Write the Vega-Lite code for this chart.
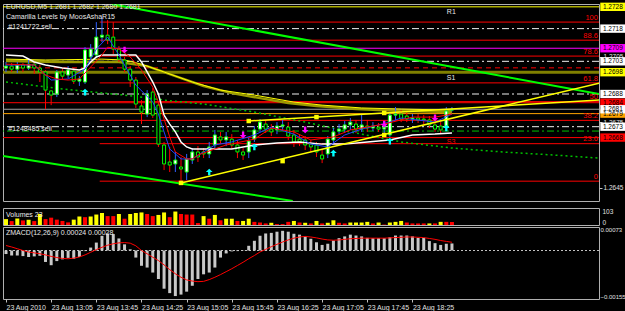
{
"$schema":"https://vega.github.io/schema/vega-lite/v6.json",
"background":"#000000",
"padding":{"left":0,"top":2,"right":0,"bottom":0},
"bounds":"flush",
"config":{
 "view":{"stroke":"#b0b0b0","strokeWidth":1},
 "axis":{"grid":false,"title":null,"domain":false,"labelColor":"#e0e0e0","labelFont":"Liberation Sans","labelFontSize":7.5,"tickColor":"#c0c0c0","tickSize":3,"labelPadding":2,"labelOverlap":false,"labelFlush":false},
 "text":{"font":"Liberation Sans","fontSize":7}
},
"datasets":{
 "bars":[
{"t":"2010-08-23T12:25","o":1.26999,"h":1.27027,"l":1.26981,"c":1.27008,"v":45,"vc":"y","m":-0.00012,"s":0.00017},
{"t":"2010-08-23T12:30","o":1.27008,"h":1.27022,"l":1.26981,"c":1.26994,"v":30,"vc":"r","m":-0.00017,"s":0.00012},
{"t":"2010-08-23T12:35","o":1.26994,"h":1.27027,"l":1.26976,"c":1.27013,"v":50,"vc":"y","m":-0.00017,"s":0.00006},
{"t":"2010-08-23T12:40","o":1.27013,"h":1.27022,"l":1.26981,"c":1.26999,"v":35,"vc":"r","m":-0.00019,"s":0.0},
{"t":"2010-08-23T12:45","o":1.26999,"h":1.27036,"l":1.2699,"c":1.27017,"v":40,"vc":"y","m":-0.00022,"s":-0.00005},
{"t":"2010-08-23T12:50","o":1.27017,"h":1.27031,"l":1.26972,"c":1.26999,"v":30,"vc":"r","m":-0.0002,"s":-0.00008},
{"t":"2010-08-23T12:55","o":1.26999,"h":1.27013,"l":1.26935,"c":1.26981,"v":84,"vc":"y","m":-0.00018,"s":-0.00011},
{"t":"2010-08-23T13:00","o":1.26981,"h":1.2699,"l":1.26811,"c":1.26898,"v":45,"vc":"r","m":-0.00039,"s":-0.00015},
{"t":"2010-08-23T13:05","o":1.26894,"h":1.26898,"l":1.26829,"c":1.26875,"v":56,"vc":"r","m":-0.0005,"s":-0.0002},
{"t":"2010-08-23T13:10","o":1.2688,"h":1.2699,"l":1.26866,"c":1.26981,"v":41,"vc":"r","m":-0.00036,"s":-0.00024},
{"t":"2010-08-23T13:15","o":1.26981,"h":1.26999,"l":1.26944,"c":1.26962,"v":31,"vc":"r","m":-0.0003,"s":-0.00027},
{"t":"2010-08-23T13:20","o":1.26967,"h":1.27008,"l":1.26953,"c":1.2699,"v":20,"vc":"r","m":-0.00025,"s":-0.00028},
{"t":"2010-08-23T13:25","o":1.26985,"h":1.26999,"l":1.26926,"c":1.26939,"v":41,"vc":"y","m":-0.00028,"s":-0.00026},
{"t":"2010-08-23T13:30","o":1.26939,"h":1.26962,"l":1.26917,"c":1.26949,"v":65,"vc":"y","m":-0.00022,"s":-0.00022},
{"t":"2010-08-23T13:35","o":1.26935,"h":1.27095,"l":1.26926,"c":1.27082,"v":60,"vc":"r","m":-0.00002,"s":-0.00015},
{"t":"2010-08-23T13:40","o":1.2705,"h":1.27109,"l":1.27036,"c":1.27086,"v":65,"vc":"y","m":0.0001,"s":-0.00006},
{"t":"2010-08-23T13:45","o":1.27059,"h":1.2721,"l":1.27045,"c":1.27141,"v":80,"vc":"y","m":0.00027,"s":0.00003},
{"t":"2010-08-23T13:50","o":1.27141,"h":1.27233,"l":1.27118,"c":1.2715,"v":92,"vc":"y","m":0.0005,"s":0.00011},
{"t":"2010-08-23T13:55","o":1.2715,"h":1.27219,"l":1.27109,"c":1.27128,"v":68,"vc":"r","m":0.00058,"s":0.00018},
{"t":"2010-08-23T14:00","o":1.27141,"h":1.2721,"l":1.27063,"c":1.27086,"v":68,"vc":"r","m":0.00056,"s":0.00023},
{"t":"2010-08-23T14:05","o":1.27086,"h":1.271,"l":1.27027,"c":1.2704,"v":84,"vc":"y","m":0.00041,"s":0.00026},
{"t":"2010-08-23T14:10","o":1.27036,"h":1.2705,"l":1.26981,"c":1.26994,"v":48,"vc":"r","m":0.00021,"s":0.00027},
{"t":"2010-08-23T14:15","o":1.26994,"h":1.27008,"l":1.26912,"c":1.26944,"v":84,"vc":"y","m":0.00004,"s":0.00025},
{"t":"2010-08-23T14:20","o":1.26944,"h":1.26958,"l":1.26816,"c":1.26834,"v":92,"vc":"y","m":-0.00024,"s":0.00016},
{"t":"2010-08-23T14:25","o":1.26825,"h":1.26852,"l":1.26742,"c":1.26797,"v":96,"vc":"y","m":-0.00052,"s":0.0},
{"t":"2010-08-23T14:30","o":1.26788,"h":1.26898,"l":1.26774,"c":1.2688,"v":84,"vc":"r","m":-0.00058,"s":-0.00011},
{"t":"2010-08-23T14:35","o":1.26889,"h":1.26907,"l":1.2677,"c":1.26783,"v":68,"vc":"r","m":-0.00075,"s":-0.00023},
{"t":"2010-08-23T14:40","o":1.26829,"h":1.26843,"l":1.26637,"c":1.2665,"v":77,"vc":"y","m":-0.00097,"s":-0.00034},
{"t":"2010-08-23T14:45","o":1.26646,"h":1.2666,"l":1.26531,"c":1.26559,"v":96,"vc":"y","m":-0.0013,"s":-0.00049},
{"t":"2010-08-23T14:50","o":1.26568,"h":1.26637,"l":1.26522,"c":1.26554,"v":60,"vc":"r","m":-0.00145,"s":-0.00065},
{"t":"2010-08-23T14:55","o":1.26559,"h":1.26614,"l":1.26522,"c":1.26577,"v":103,"vc":"y","m":-0.00155,"s":-0.00079},
{"t":"2010-08-23T15:00","o":1.26545,"h":1.26591,"l":1.26472,"c":1.26536,"v":84,"vc":"r","m":-0.0015,"s":-0.00091},
{"t":"2010-08-23T15:05","o":1.26522,"h":1.26605,"l":1.26485,"c":1.26582,"v":80,"vc":"r","m":-0.0014,"s":-0.001},
{"t":"2010-08-23T15:10","o":1.26577,"h":1.26632,"l":1.26559,"c":1.26614,"v":80,"vc":"r","m":-0.0012,"s":-0.00104},
{"t":"2010-08-23T15:15","o":1.26614,"h":1.26641,"l":1.26568,"c":1.26591,"v":15,"vc":"r","m":-0.00097,"s":-0.00106},
{"t":"2010-08-23T15:20","o":1.26614,"h":1.26632,"l":1.26586,"c":1.26605,"v":68,"vc":"y","m":-0.00081,"s":-0.00105},
{"t":"2010-08-23T15:25","o":1.26605,"h":1.2666,"l":1.26586,"c":1.26637,"v":48,"vc":"r","m":-0.00075,"s":-0.00099},
{"t":"2010-08-23T15:30","o":1.26646,"h":1.26715,"l":1.26632,"c":1.26692,"v":77,"vc":"y","m":-0.00058,"s":-0.00091},
{"t":"2010-08-23T15:35","o":1.26683,"h":1.26706,"l":1.2665,"c":1.26669,"v":36,"vc":"r","m":-0.00024,"s":-0.00082},
{"t":"2010-08-23T15:40","o":1.26669,"h":1.26706,"l":1.26641,"c":1.26683,"v":48,"vc":"y","m":-0.0001,"s":-0.00072},
{"t":"2010-08-23T15:45","o":1.26673,"h":1.26696,"l":1.26628,"c":1.26646,"v":48,"vc":"y","m":-0.00003,"s":-0.00062},
{"t":"2010-08-23T15:50","o":1.26646,"h":1.26669,"l":1.26586,"c":1.26614,"v":31,"vc":"r","m":-0.00002,"s":-0.00051},
{"t":"2010-08-23T15:55","o":1.26614,"h":1.26632,"l":1.26577,"c":1.266,"v":31,"vc":"y","m":0.00001,"s":-0.0004},
{"t":"2010-08-23T16:00","o":1.26614,"h":1.26678,"l":1.26586,"c":1.26664,"v":48,"vc":"y","m":0.00016,"s":-0.00028},
{"t":"2010-08-23T16:05","o":1.26673,"h":1.26733,"l":1.2666,"c":1.26715,"v":24,"vc":"r","m":0.00033,"s":-0.00017},
{"t":"2010-08-23T16:10","o":1.26719,"h":1.26765,"l":1.26706,"c":1.26751,"v":19,"vc":"r","m":0.0005,"s":-0.00005},
{"t":"2010-08-23T16:15","o":1.26742,"h":1.26761,"l":1.26701,"c":1.26719,"v":12,"vc":"r","m":0.00058,"s":0.00004},
{"t":"2010-08-23T16:20","o":1.26719,"h":1.26742,"l":1.26687,"c":1.26706,"v":17,"vc":"y","m":0.0006,"s":0.00013},
{"t":"2010-08-23T16:25","o":1.26715,"h":1.26751,"l":1.26696,"c":1.26733,"v":7,"vc":"r","m":0.00064,"s":0.00021},
{"t":"2010-08-23T16:30","o":1.26733,"h":1.26761,"l":1.26715,"c":1.26738,"v":7,"vc":"r","m":0.00067,"s":0.00029},
{"t":"2010-08-23T16:35","o":1.26728,"h":1.26751,"l":1.26669,"c":1.26687,"v":24,"vc":"r","m":0.00064,"s":0.00036},
{"t":"2010-08-23T16:40","o":1.26692,"h":1.26715,"l":1.26637,"c":1.2666,"v":31,"vc":"y","m":0.00057,"s":0.00042},
{"t":"2010-08-23T16:45","o":1.26673,"h":1.26696,"l":1.26641,"c":1.2666,"v":19,"vc":"r","m":0.00054,"s":0.00046},
{"t":"2010-08-23T16:50","o":1.26669,"h":1.26687,"l":1.26623,"c":1.26646,"v":17,"vc":"y","m":0.00048,"s":0.00048},
{"t":"2010-08-23T16:55","o":1.2665,"h":1.26669,"l":1.26614,"c":1.26637,"v":12,"vc":"r","m":0.0004,"s":0.00046},
{"t":"2010-08-23T17:00","o":1.26646,"h":1.2666,"l":1.26591,"c":1.26614,"v":31,"vc":"y","m":0.00028,"s":0.00043},
{"t":"2010-08-23T17:05","o":1.266,"h":1.26623,"l":1.26563,"c":1.26582,"v":12,"vc":"r","m":0.00019,"s":0.00039},
{"t":"2010-08-23T17:10","o":1.26605,"h":1.26687,"l":1.26586,"c":1.26673,"v":17,"vc":"y","m":0.00023,"s":0.00036},
{"t":"2010-08-23T17:15","o":1.26669,"h":1.26724,"l":1.2665,"c":1.26706,"v":36,"vc":"y","m":0.00034,"s":0.00035},
{"t":"2010-08-23T17:20","o":1.2671,"h":1.26742,"l":1.26696,"c":1.26719,"v":17,"vc":"r","m":0.00042,"s":0.00036},
{"t":"2010-08-23T17:25","o":1.26719,"h":1.26756,"l":1.26701,"c":1.26738,"v":12,"vc":"r","m":0.00048,"s":0.00038},
{"t":"2010-08-23T17:30","o":1.26738,"h":1.2677,"l":1.26715,"c":1.26751,"v":19,"vc":"y","m":0.00054,"s":0.0004},
{"t":"2010-08-23T17:35","o":1.26742,"h":1.26761,"l":1.26701,"c":1.26719,"v":19,"vc":"y","m":0.00051,"s":0.00041},
{"t":"2010-08-23T17:40","o":1.26719,"h":1.26788,"l":1.26706,"c":1.26738,"v":19,"vc":"y","m":0.00048,"s":0.00042},
{"t":"2010-08-23T17:45","o":1.26733,"h":1.26761,"l":1.26706,"c":1.26724,"v":24,"vc":"y","m":0.00043,"s":0.00042},
{"t":"2010-08-23T17:50","o":1.26724,"h":1.26751,"l":1.2671,"c":1.26733,"v":12,"vc":"r","m":0.00042,"s":0.00042},
{"t":"2010-08-23T17:55","o":1.26728,"h":1.26747,"l":1.26706,"c":1.26719,"v":19,"vc":"y","m":0.00042,"s":0.00042},
{"t":"2010-08-23T18:00","o":1.26719,"h":1.26751,"l":1.26696,"c":1.26728,"v":3,"vc":"r","m":0.00042,"s":0.00042},
{"t":"2010-08-23T18:05","o":1.26692,"h":1.26797,"l":1.26683,"c":1.26783,"v":19,"vc":"y","m":0.00045,"s":0.00043},
{"t":"2010-08-23T18:10","o":1.26783,"h":1.2682,"l":1.26761,"c":1.26788,"v":24,"vc":"y","m":0.00051,"s":0.00044},
{"t":"2010-08-23T18:15","o":1.26788,"h":1.26806,"l":1.26751,"c":1.26765,"v":31,"vc":"y","m":0.00051,"s":0.00045},
{"t":"2010-08-23T18:20","o":1.26779,"h":1.26797,"l":1.26751,"c":1.26765,"v":19,"vc":"r","m":0.00051,"s":0.00046},
{"t":"2010-08-23T18:25","o":1.26765,"h":1.26788,"l":1.26747,"c":1.2677,"v":12,"vc":"r","m":0.00048,"s":0.00046},
{"t":"2010-08-23T18:30","o":1.2677,"h":1.26788,"l":1.26747,"c":1.26761,"v":12,"vc":"r","m":0.00043,"s":0.00045},
{"t":"2010-08-23T18:35","o":1.26765,"h":1.26783,"l":1.26742,"c":1.26761,"v":12,"vc":"r","m":0.00043,"s":0.00044},
{"t":"2010-08-23T18:40","o":1.26761,"h":1.26779,"l":1.26724,"c":1.26738,"v":12,"vc":"y","m":0.00032,"s":0.00041},
{"t":"2010-08-23T18:45","o":1.26738,"h":1.26751,"l":1.26706,"c":1.26719,"v":12,"vc":"r","m":0.00025,"s":0.00038},
{"t":"2010-08-23T18:50","o":1.26733,"h":1.26751,"l":1.26696,"c":1.26715,"v":24,"vc":"y","m":0.00019,"s":0.00034},
{"t":"2010-08-23T18:55","o":1.26728,"h":1.2682,"l":1.26719,"c":1.26802,"v":24,"vc":"r","m":0.00023,"s":0.00031},
{"t":"2010-08-23T19:00","o":1.26806,"h":1.2682,"l":1.268,"c":1.2681,"v":23,"vc":"r","m":0.00024,"s":0.00028}
 ],
 "redma":[
{"t":"2010-08-23T12:25","p":1.27017},{"t":"2010-08-23T12:50","p":1.27013},{"t":"2010-08-23T13:00","p":1.26967},{"t":"2010-08-23T13:10","p":1.26949},{"t":"2010-08-23T13:20","p":1.26944},{"t":"2010-08-23T13:30","p":1.26949},{"t":"2010-08-23T13:40","p":1.27004},{"t":"2010-08-23T13:50","p":1.27059},{"t":"2010-08-23T13:55","p":1.27095},{"t":"2010-08-23T14:05","p":1.27086},{"t":"2010-08-23T14:15","p":1.2705},{"t":"2010-08-23T14:25","p":1.2699},{"t":"2010-08-23T14:35","p":1.26912},{"t":"2010-08-23T14:40","p":1.26843},{"t":"2010-08-23T14:45","p":1.26765},{"t":"2010-08-23T14:50","p":1.26683},{"t":"2010-08-23T14:55","p":1.26614},{"t":"2010-08-23T15:05","p":1.26582},{"t":"2010-08-23T15:10","p":1.26582},{"t":"2010-08-23T15:15","p":1.266},{"t":"2010-08-23T15:30","p":1.26628},{"t":"2010-08-23T15:40","p":1.26646},{"t":"2010-08-23T16:05","p":1.26673},{"t":"2010-08-23T16:20","p":1.26724},{"t":"2010-08-23T16:40","p":1.26706},{"t":"2010-08-23T16:55","p":1.26669},{"t":"2010-08-23T17:15","p":1.26683},{"t":"2010-08-23T17:30","p":1.26715},{"t":"2010-08-23T18:00","p":1.26742},{"t":"2010-08-23T18:25","p":1.26774},{"t":"2010-08-23T18:45","p":1.26774},{"t":"2010-08-23T19:00","p":1.26788}
 ],
 "bluema":[
{"t":"2010-08-23T12:25","p":1.27013},{"t":"2010-08-23T12:50","p":1.27013},{"t":"2010-08-23T13:05","p":1.26944},{"t":"2010-08-23T13:20","p":1.26949},{"t":"2010-08-23T13:35","p":1.26994},{"t":"2010-08-23T13:45","p":1.27086},{"t":"2010-08-23T13:55","p":1.27141},{"t":"2010-08-23T14:05","p":1.27059},{"t":"2010-08-23T14:20","p":1.26921},{"t":"2010-08-23T14:35","p":1.26843},{"t":"2010-08-23T14:40","p":1.26788},{"t":"2010-08-23T14:45","p":1.26706},{"t":"2010-08-23T14:50","p":1.26628},{"t":"2010-08-23T15:00","p":1.26582},{"t":"2010-08-23T15:10","p":1.26582},{"t":"2010-08-23T15:20","p":1.26614},{"t":"2010-08-23T15:30","p":1.26646},{"t":"2010-08-23T15:45","p":1.2666},{"t":"2010-08-23T16:05","p":1.26692},{"t":"2010-08-23T16:20","p":1.26728},{"t":"2010-08-23T16:40","p":1.26696},{"t":"2010-08-23T16:55","p":1.2665},{"t":"2010-08-23T17:10","p":1.26637},{"t":"2010-08-23T17:25","p":1.26692},{"t":"2010-08-23T17:40","p":1.26719},{"t":"2010-08-23T18:05","p":1.26751},{"t":"2010-08-23T18:15","p":1.2677},{"t":"2010-08-23T18:45","p":1.26751},{"t":"2010-08-23T19:00","p":1.26788}
 ],
 "whitema":[
{"t":"2010-08-23T12:25","p":1.27059},{"t":"2010-08-23T12:40","p":1.27054},{"t":"2010-08-23T12:50","p":1.27027},{"t":"2010-08-23T13:00","p":1.27013},{"t":"2010-08-23T13:15","p":1.26999},{"t":"2010-08-23T13:30","p":1.2699},{"t":"2010-08-23T13:35","p":1.26999},{"t":"2010-08-23T13:40","p":1.27027},{"t":"2010-08-23T13:45","p":1.2705},{"t":"2010-08-23T13:50","p":1.27059},{"t":"2010-08-23T14:20","p":1.27059},{"t":"2010-08-23T14:25","p":1.27027},{"t":"2010-08-23T14:30","p":1.26981},{"t":"2010-08-23T14:35","p":1.26935},{"t":"2010-08-23T14:40","p":1.2688},{"t":"2010-08-23T14:45","p":1.26783},{"t":"2010-08-23T14:50","p":1.26742},{"t":"2010-08-23T14:55","p":1.26706},{"t":"2010-08-23T15:00","p":1.2666},{"t":"2010-08-23T15:05","p":1.26637},{"t":"2010-08-23T15:10","p":1.26628},{"t":"2010-08-23T15:45","p":1.26628},{"t":"2010-08-23T16:05","p":1.26646},{"t":"2010-08-23T16:25","p":1.26655},{"t":"2010-08-23T16:45","p":1.2666},{"t":"2010-08-23T17:05","p":1.2665},{"t":"2010-08-23T17:25","p":1.2665},{"t":"2010-08-23T17:45","p":1.2666},{"t":"2010-08-23T18:05","p":1.26669},{"t":"2010-08-23T18:25","p":1.26692},{"t":"2010-08-23T18:45","p":1.26696},{"t":"2010-08-23T19:00","p":1.26701}
 ],
 "yelma":[
{"t":"2010-08-23T12:25","p":1.2704},{"t":"2010-08-23T13:00","p":1.27036},{"t":"2010-08-23T13:50","p":1.2704},{"t":"2010-08-23T14:10","p":1.27036},{"t":"2010-08-23T14:25","p":1.27017},{"t":"2010-08-23T14:45","p":1.26981},{"t":"2010-08-23T15:10","p":1.26935},{"t":"2010-08-23T15:35","p":1.26898},{"t":"2010-08-23T16:05","p":1.26875},{"t":"2010-08-23T16:40","p":1.26843},{"t":"2010-08-23T17:05","p":1.26829},{"t":"2010-08-23T17:40","p":1.26816},{"t":"2010-08-23T18:15","p":1.26811},{"t":"2010-08-23T19:00","p":1.26806}
 ],
 "olvma":[
{"t":"2010-08-23T12:25","p":1.27031},{"t":"2010-08-23T13:15","p":1.27027},{"t":"2010-08-23T14:05","p":1.27027},{"t":"2010-08-23T14:30","p":1.27008},{"t":"2010-08-23T14:55","p":1.26962},{"t":"2010-08-23T15:20","p":1.26917},{"t":"2010-08-23T15:45","p":1.26884},{"t":"2010-08-23T16:10","p":1.26861},{"t":"2010-08-23T16:35","p":1.26839},{"t":"2010-08-23T17:00","p":1.26825},{"t":"2010-08-23T17:35","p":1.26811},{"t":"2010-08-23T18:15","p":1.26802},{"t":"2010-08-23T19:00","p":1.26797}
 ],
 "grnma":[
{"t":"2010-08-23T12:25","p":1.26935},{"t":"2010-08-23T13:15","p":1.26903},{"t":"2010-08-23T14:10","p":1.26875},{"t":"2010-08-23T14:45","p":1.26852},{"t":"2010-08-23T15:20","p":1.26834},{"t":"2010-08-23T16:05","p":1.26797},{"t":"2010-08-23T16:50","p":1.26751},{"t":"2010-08-23T17:30","p":1.26706},{"t":"2010-08-23T18:15","p":1.2666},{"t":"2010-08-23T19:00","p":1.26632},{"t":"2010-08-23T19:45","p":1.26614},{"t":"2010-08-23T20:30","p":1.266},{"t":"2010-08-23T21:10","p":1.26586}
 ]
},
"spacing":7,
"resolve":{"scale":{"x":"independent","y":"independent","color":"independent","fill":"independent"}},
"vconcat":[
{
 "width":596,"height":197,
 "layer":[
  {"data":{"values":[{"p":1.2728}]},"mark":{"type":"rule","color":"#ffff00","strokeWidth":1},
   "encoding":{"y":{"field":"p","type":"quantitative","scale":{"domain":[1.26389,1.27293],"zero":false,"nice":false},"axis":{"orient":"right","values":[1.2645,1.266,1.2675,1.269,1.2705,1.272],"format":".4f","labelFontSize":6.5,"labelPadding":1}}}},
  {"data":{"values":[{"p":1.2718},{"p":1.2703},{"p":1.2688},{"p":1.2673}]},"mark":{"type":"rule","color":"#f0f0f0","strokeWidth":1,"strokeDash":[7,3,2,3]},"encoding":{"y":{"field":"p","type":"quantitative"}}},
  {"data":{"values":[{"p":1.2709}]},"mark":{"type":"rule","color":"#ff00ff","strokeWidth":1},"encoding":{"y":{"field":"p","type":"quantitative"}}},
  {"data":{"values":[{"p":1.27}]},"mark":{"type":"rule","color":"#ff0000","strokeWidth":1,"strokeDash":[5,4]},"encoding":{"y":{"field":"p","type":"quantitative"}}},
  {"data":{"values":[{"p":1.2698}]},"mark":{"type":"rule","color":"#808000","strokeWidth":3},"encoding":{"y":{"field":"p","type":"quantitative"}}},
  {"data":{"values":[{"p":1.2684},{"p":1.2668}]},"mark":{"type":"rule","color":"#ff0000","strokeWidth":1},"encoding":{"y":{"field":"p","type":"quantitative"}}},
  {"data":{"values":[{"p":1.2681}]},"mark":{"type":"rule","color":"#a0a0a0","strokeWidth":1},"encoding":{"y":{"field":"p","type":"quantitative"}}},
  {"data":{"values":[{"p":1.2679}]},"mark":{"type":"rule","color":"#ffa500","strokeWidth":1},"encoding":{"y":{"field":"p","type":"quantitative"}}},
  {"data":{"values":[{"p":1.2671}]},"mark":{"type":"rule","color":"#00c000","strokeWidth":1,"strokeDash":[7,3,2,3]},"encoding":{"y":{"field":"p","type":"quantitative"}}},
  {"data":{"values":[{"t":"2010-08-23T13:48","p":1.2721},{"t":"2010-08-23T13:48","p":1.27127},{"t":"2010-08-23T13:48","p":1.27054},{"t":"2010-08-23T13:48","p":1.26931},{"t":"2010-08-23T13:48","p":1.26845},{"t":"2010-08-23T13:48","p":1.26759},{"t":"2010-08-23T13:48","p":1.26652},{"t":"2010-08-23T13:48","p":1.2648}]},
   "mark":{"type":"rule","color":"#ff0000","strokeWidth":1},
   "encoding":{"x":{"field":"t","type":"temporal","axis":null},"x2":{"datum":{"year":2010,"month":8,"date":23,"hours":21,"minutes":10,"seconds":15}},"y":{"field":"p","type":"quantitative"}}},
  {"data":{"values":[{"t":"2010-08-23T13:58","p":1.27293,"g":"u"},{"t":"2010-08-23T21:10:15","p":1.2688,"g":"u"},{"t":"2010-08-23T12:22:20","p":1.26595,"g":"l"},{"t":"2010-08-23T16:39","p":1.26389,"g":"l"}]},
   "mark":{"type":"line","color":"#00ff00","strokeWidth":2,"clip":true},
   "encoding":{"x":{"field":"t","type":"temporal","axis":null},"y":{"field":"p","type":"quantitative"},"detail":{"field":"g"}}},
  {"data":{"name":"grnma"},"mark":{"type":"line","color":"#00c000","strokeWidth":1.5,"strokeDash":[2,3],"clip":true},"encoding":{"x":{"field":"t","type":"temporal","axis":null},"y":{"field":"p","type":"quantitative"}}},
  {"data":{"name":"olvma"},"mark":{"type":"line","color":"#9a9a00","strokeWidth":2.5},"encoding":{"x":{"field":"t","type":"temporal","axis":null},"y":{"field":"p","type":"quantitative"}}},
  {"data":{"name":"yelma"},"mark":{"type":"line","color":"#ffff00","strokeWidth":1},"encoding":{"x":{"field":"t","type":"temporal","axis":null},"y":{"field":"p","type":"quantitative"}}},
  {"data":{"name":"bars"},"mark":{"type":"rule","strokeWidth":1},
   "encoding":{"x":{"field":"t","type":"temporal","axis":null,"scale":{"padding":0,"domain":[{"year":2010,"month":8,"date":23,"hours":12,"minutes":22,"seconds":20},{"year":2010,"month":8,"date":23,"hours":21,"minutes":10,"seconds":15}]}},
    "y":{"field":"l","type":"quantitative"},"y2":{"field":"h"},
    "color":{"condition":{"test":"datum.c >= datum.o","value":"#3060ff"},"value":"#ff0000"}}},
  {"data":{"name":"bars"},"mark":{"type":"bar","width":3,"stroke":"#00ff00","strokeWidth":1},
   "encoding":{"x":{"field":"t","type":"temporal","axis":null},"y":{"field":"o","type":"quantitative"},"y2":{"field":"c"},
    "fill":{"condition":{"test":"datum.c >= datum.o","value":"#ffffff"},"value":"#000000"}}},
  {"data":{"name":"whitema"},"mark":{"type":"line","color":"#ffffff","strokeWidth":1.5},"encoding":{"x":{"field":"t","type":"temporal","axis":null},"y":{"field":"p","type":"quantitative"}}},
  {"data":{"name":"bluema"},"mark":{"type":"line","color":"#2040ff","strokeWidth":1},"encoding":{"x":{"field":"t","type":"temporal","axis":null},"y":{"field":"p","type":"quantitative"}}},
  {"data":{"name":"redma"},"mark":{"type":"line","color":"#ff0000","strokeWidth":1},"encoding":{"x":{"field":"t","type":"temporal","axis":null},"y":{"field":"p","type":"quantitative"}}},
  {"data":{"values":[{"t":"2010-08-23T15:00","p":1.26472,"g":"a"},{"t":"2010-08-23T21:10:15","p":1.2693,"g":"a"},{"t":"2010-08-23T16:00","p":1.26756,"g":"b"},{"t":"2010-08-23T21:10:15","p":1.26852,"g":"b"}]},
   "mark":{"type":"line","color":"#ffff00","strokeWidth":1.5,"clip":true},
   "encoding":{"x":{"field":"t","type":"temporal","axis":null},"y":{"field":"p","type":"quantitative"},"detail":{"field":"g"}}},
  {"data":{"values":[{"t":"2010-08-23T15:00","p":1.26472},{"t":"2010-08-23T16:30","p":1.26572},{"t":"2010-08-23T18:00","p":1.26692},{"t":"2010-08-23T16:00","p":1.26756},{"t":"2010-08-23T17:00","p":1.26774},{"t":"2010-08-23T18:00","p":1.26793}]},
   "mark":{"type":"point","shape":"square","filled":true,"size":20,"color":"#ffff00","opacity":1},
   "encoding":{"x":{"field":"t","type":"temporal","axis":null},"y":{"field":"p","type":"quantitative"}}},
  {"data":{"values":[{"t":"2010-08-23T13:35","p":1.26889},{"t":"2010-08-23T15:25","p":1.26522},{"t":"2010-08-23T16:05","p":1.26637},{"t":"2010-08-23T17:15","p":1.26609},{"t":"2010-08-23T18:05","p":1.26664},{"t":"2010-08-23T18:55","p":1.26724}]},
   "mark":{"type":"point","shape":"M0,-1L1,0L0.35,0L0.35,1L-0.35,1L-0.35,0L-1,0Z","filled":true,"size":45,"color":"#00ffff","opacity":1},
   "encoding":{"x":{"field":"t","type":"temporal","axis":null},"y":{"field":"p","type":"quantitative"}}},
  {"data":{"values":[{"t":"2010-08-23T14:10","p":1.27082},{"t":"2010-08-23T15:55","p":1.26692},{"t":"2010-08-23T16:50","p":1.26715},{"t":"2010-08-23T18:00","p":1.26742},{"t":"2010-08-23T18:45","p":1.2677}]},
   "mark":{"type":"point","shape":"M0,1L1,0L0.35,0L0.35,-1L-0.35,-1L-0.35,0L-1,0Z","filled":true,"size":45,"color":"#ff00ff","opacity":1},
   "encoding":{"x":{"field":"t","type":"temporal","axis":null},"y":{"field":"p","type":"quantitative"}}},
  {"data":{"values":[
    {"t":"2010-08-23T12:25","p":1.27279,"s":"EURUSD,M5  1.2681 1.2682 1.2680 1.2681"},
    {"t":"2010-08-23T12:25","p":1.27233,"s":"Camarilla Levels by MoosAshaR15"},
    {"t":"2010-08-23T12:27","p":1.27187,"s":"#1241722 sell"},
    {"t":"2010-08-23T12:27","p":1.26721,"s":"#1248485 sell"},
    {"t":"2010-08-23T18:55:30","p":1.27256,"s":"R1"},
    {"t":"2010-08-23T18:55:30","p":1.26953,"s":"S1"}]},
   "mark":{"type":"text","align":"left","baseline":"middle","color":"#e8e8e8","fontSize":7},
   "encoding":{"x":{"field":"t","type":"temporal","axis":null},"y":{"field":"p","type":"quantitative"},"text":{"field":"s"}}},
  {"data":{"values":[{"t":"2010-08-23T18:55:30","p":1.2666,"s":"S3"}]},
   "mark":{"type":"text","align":"left","baseline":"middle","color":"#ff0000","fontSize":7},
   "encoding":{"x":{"field":"t","type":"temporal","axis":null},"y":{"field":"p","type":"quantitative"},"text":{"field":"s"}}},
  {"data":{"values":[{"t":"2010-08-23T21:09:20","p":1.2723,"s":"100"},{"t":"2010-08-23T21:09:20","p":1.27147,"s":"88.6"},{"t":"2010-08-23T21:09:20","p":1.27074,"s":"78.6"},{"t":"2010-08-23T21:09:20","p":1.26951,"s":"61.8"},{"t":"2010-08-23T21:09:20","p":1.26865,"s":"50"},{"t":"2010-08-23T21:09:20","p":1.26779,"s":"38.2"},{"t":"2010-08-23T21:09:20","p":1.26672,"s":"23.6"},{"t":"2010-08-23T21:09:20","p":1.265,"s":"0"}]},
   "mark":{"type":"text","align":"right","baseline":"middle","color":"#ff0000","fontSize":7.5},
   "encoding":{"x":{"field":"t","type":"temporal","axis":null},"y":{"field":"p","type":"quantitative"},"text":{"field":"s"}}},
  {"data":{"values":[{"t":"2010-08-23T21:22:30","p":1.2728,"k":"y"},{"t":"2010-08-23T21:22:30","p":1.2718,"k":"w"},{"t":"2010-08-23T21:22:30","p":1.2709,"k":"m"},{"t":"2010-08-23T21:22:30","p":1.2703,"k":"w"},{"t":"2010-08-23T21:22:30","p":1.2698,"k":"y"},{"t":"2010-08-23T21:22:30","p":1.2688,"k":"w"},{"t":"2010-08-23T21:22:30","p":1.2684,"k":"r"},{"t":"2010-08-23T21:22:30","p":1.2679,"k":"o"},{"t":"2010-08-23T21:22:30","p":1.2681,"k":"w"},{"t":"2010-08-23T21:22:30","p":1.2673,"k":"w"},{"t":"2010-08-23T21:22:30","p":1.2668,"k":"r"}]},
   "layer":[
    {"mark":{"type":"point","shape":"M-3,-1H3V1H-3Z","filled":true,"size":70,"opacity":1,"strokeWidth":0},
     "encoding":{"x":{"field":"t","type":"temporal","axis":null},"y":{"field":"p","type":"quantitative"},
      "fill":{"field":"k","type":"nominal","scale":{"domain":["y","w","m","r","o"],"range":["#ffff00","#ffffff","#ff00ff","#ff0000","#ffa500"]},"legend":null}}},
    {"mark":{"type":"text","align":"center","baseline":"middle","color":"#000000","fontSize":6.5},
     "encoding":{"x":{"field":"t","type":"temporal","axis":null},"y":{"field":"p","type":"quantitative"},"text":{"field":"p","type":"quantitative","format":".4f"}}}
   ]}
 ]
},
{
 "spacing":2,
 "bounds":"flush",
 "resolve":{"scale":{"x":"independent","y":"independent","color":"independent"}},
 "vconcat":[
  {
   "width":596,"height":17,
   "layer":[
    {"data":{"name":"bars"},"mark":{"type":"bar","width":4},
     "encoding":{"x":{"field":"t","type":"temporal","axis":null,"scale":{"padding":0,"domain":[{"year":2010,"month":8,"date":23,"hours":12,"minutes":22,"seconds":20},{"year":2010,"month":8,"date":23,"hours":21,"minutes":10,"seconds":15}]}},
      "y":{"field":"v","type":"quantitative","scale":{"domain":[0,130],"nice":false},"axis":{"orient":"right","values":[103,0],"labelFontSize":6.5,"tickSize":0,"labelPadding":3,"labelBaseline":{"condition":{"test":"datum.value == 0","value":"bottom"},"value":"middle"}}},
      "y2":{"datum":0},
      "color":{"field":"vc","type":"nominal","scale":{"domain":["y","r"],"range":["#ffff00","#ff0000"]},"legend":null}}},
    {"data":{"values":[{"t":"2010-08-23T12:25","v":76,"s":"Volumes 23"}]},
     "mark":{"type":"text","align":"left","baseline":"middle","color":"#e8e8e8","fontSize":7},
     "encoding":{"x":{"field":"t","type":"temporal","axis":null},"y":{"field":"v","type":"quantitative"},"text":{"field":"s"}}}
   ]
  },
  {
   "width":596,"height":72,
   "layer":[
    {"data":{"values":[{}]},"mark":{"type":"rule","color":"#c0c0c0","strokeDash":[2,2]},
     "encoding":{"y":{"datum":0,"type":"quantitative","scale":{"domain":[-0.00165,0.0008],"nice":false,"zero":false},
      "axis":{"orient":"right","values":[0.00073,0,-0.00155],"labelFontSize":6,"tickSize":0,"labelPadding":1,"labelExpr":"datum.value == 0 ? '0.00' : format(datum.value, '.5f')"}}}},
    {"data":{"name":"bars"},"mark":{"type":"bar","width":3,"color":"#c8c8c8"},
     "encoding":{"x":{"field":"t","type":"temporal","scale":{"padding":0,"domain":[{"year":2010,"month":8,"date":23,"hours":12,"minutes":22,"seconds":20},{"year":2010,"month":8,"date":23,"hours":21,"minutes":10,"seconds":15}]},
       "axis":{"orient":"bottom","labelAlign":"left","labelFontSize":7,"labelPadding":1,"tickSize":3,
        "values":[{"year":2010,"month":8,"date":23,"hours":12,"minutes":25},{"year":2010,"month":8,"date":23,"hours":13,"minutes":5},{"year":2010,"month":8,"date":23,"hours":13,"minutes":45},{"year":2010,"month":8,"date":23,"hours":14,"minutes":25},{"year":2010,"month":8,"date":23,"hours":15,"minutes":5},{"year":2010,"month":8,"date":23,"hours":15,"minutes":45},{"year":2010,"month":8,"date":23,"hours":16,"minutes":25},{"year":2010,"month":8,"date":23,"hours":17,"minutes":5},{"year":2010,"month":8,"date":23,"hours":17,"minutes":45},{"year":2010,"month":8,"date":23,"hours":18,"minutes":25}],
        "labelExpr":"hours(datum.value) == 12 ? '23 Aug 2010' : timeFormat(datum.value, '%d %b %H:%M')"}},
      "y":{"field":"m","type":"quantitative"},"y2":{"datum":0}}},
    {"data":{"name":"bars"},"mark":{"type":"line","color":"#ff0000","strokeWidth":1},
     "encoding":{"x":{"field":"t","type":"temporal"},"y":{"field":"s","type":"quantitative"}}},
    {"data":{"values":[{"t":"2010-08-23T12:25","m":0.0006,"s":"ZMACD(12,26,9) 0.00024 0.00028"}]},
     "mark":{"type":"text","align":"left","baseline":"middle","color":"#e8e8e8","fontSize":7},
     "encoding":{"x":{"field":"t","type":"temporal"},"y":{"field":"m","type":"quantitative"},"text":{"field":"s"}}}
   ]
  }
 ]
}
]
}
